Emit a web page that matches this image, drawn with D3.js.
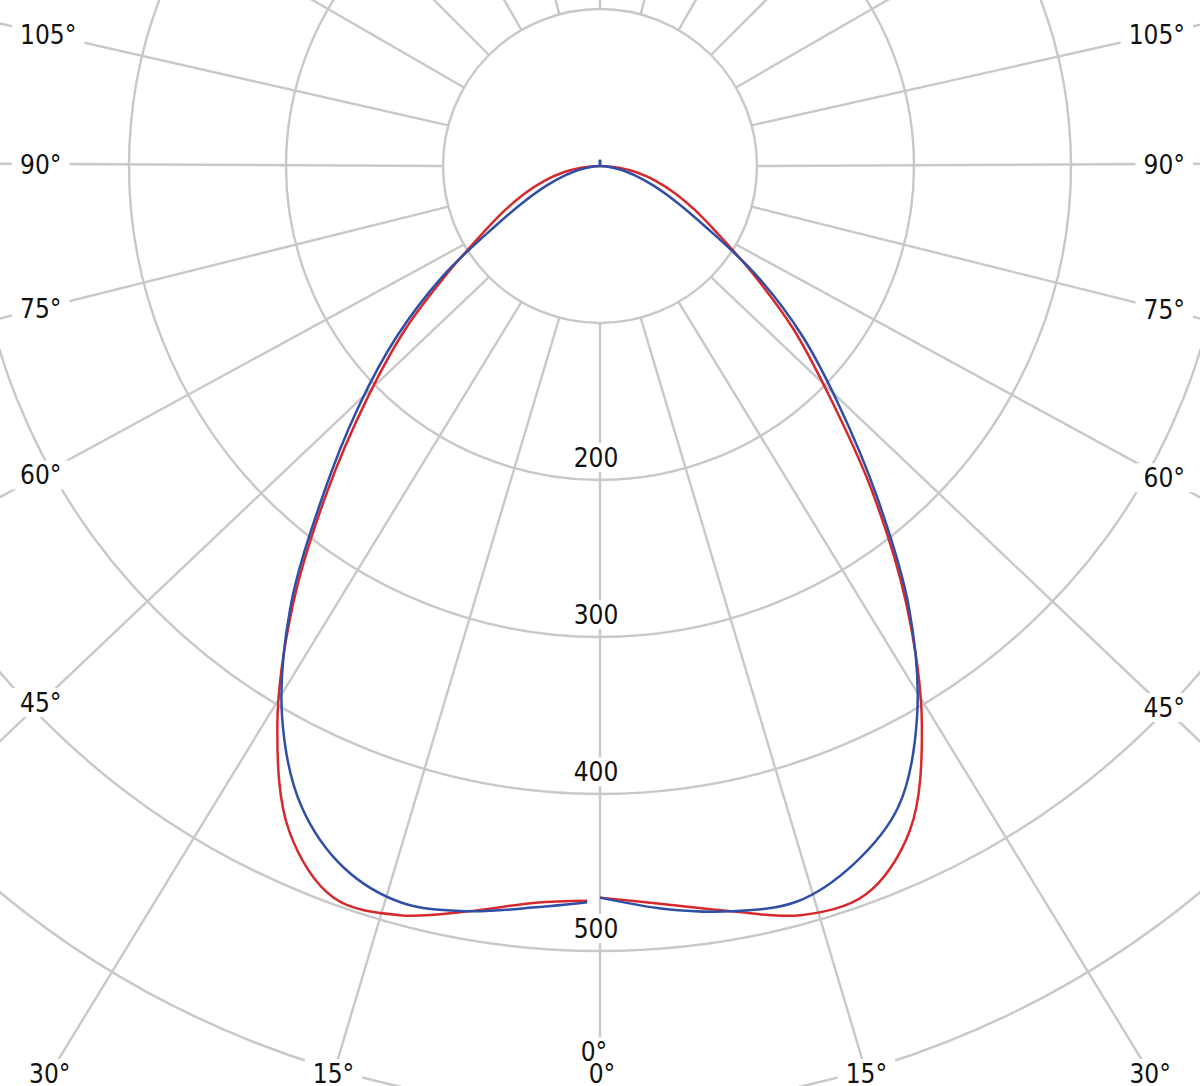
<!DOCTYPE html>
<html>
<head>
<meta charset="utf-8">
<script src="https://cdn.jsdelivr.net/npm/d3@7"></script>
<style>
  html, body { margin: 0; padding: 0; background: #fff; }
  svg { display: block; }
  text {
    font-family: 'DejaVu Sans Condensed', 'DejaVu Sans', sans-serif;
    font-stretch: condensed;
    font-size: 26px;
    fill: #111;
  }
</style>
</head>
<body>
<svg id="chart" width="1200" height="1086"></svg>
<script>
// Luminous intensity polar diagram (two planes, left / right halves)

// gamma angles (deg from nadir) for each half
var gammaRight = [0, 5, 10, 15, 20, 25, 30, 35, 40, 45, 50, 55, 60, 65, 70, 75, 80, 85, 90];
var gammaLeft  = [1, 5, 10, 15, 20, 25, 30, 35, 40, 45, 50, 55, 60, 65, 70, 75, 80, 85, 90];

// red series
var redRight = [466, 472, 482, 494, 494, 467, 410, 340, 269, 206, 160, 118, 87, 67, 51, 37, 24, 12, 0];
var redLeft  = [468, 471, 482, 494, 496, 468, 411, 341, 270, 210, 162, 118, 87, 67, 51, 37, 24, 12, 0];

// blue series
var blueRight = [466, 475, 482, 485, 473, 450, 404, 343, 274, 215, 168, 122, 78, 53, 36, 23, 13, 5, 0];
var blueLeft  = [469, 474, 482, 486, 476, 450, 405, 344, 275, 218, 169, 122, 78, 53, 36, 23, 13, 5, 0];

// blue has a tiny back lobe at the top
var gammaRear = [90, 170, 175, 180];
var blueRear  = [0, 0, 2, 4];

var rings = [100, 200, 300, 400, 500, 600, 700];
var ringLabels = [200, 300, 400, 500];
var spokes = [0, 15, 30, 45, 60, 75, 90, 105, 120, 135, 150, 165, 180];
var spokeLabels = [0, 15, 30, 45, 60, 75, 90, 105];

var width = 1200, height = 1086;
var cx = 600, cy = 166;
var frame = { left: 20, right: 1185, top: 44, bottom: 1083 };
var glyphHalf = 9.5, glyphH = 19;

var gridColor = '#c8c8c8';
var redColor = '#d7282b';
var blueColor = '#2f4ea6';

var r = d3.scaleLinear().domain([0, 100]).range([0, 157]);
var rad = function (d) { return d * Math.PI / 180; };

var svg = d3.select('#chart');
var gridLayer = svg.append('g');
var labelLayer = svg.append('g');
var curveLayer = svg.append('g').attr('transform', 'translate(' + cx + ',' + cy + ')');

// rings
gridLayer.selectAll('circle.ring')
  .data(rings)
  .enter().append('circle')
  .attr('class', 'ring')
  .attr('cx', cx)
  .attr('cy', cy)
  .attr('r', function (d) { return r(d); })
  .attr('fill', 'none')
  .attr('stroke', gridColor)
  .attr('stroke-width', 2.4);

// angle labels: pushed against the frame along their spoke
function placeAngleLabel(g, side) {
  var t = labelLayer.append('text').text(g + '\u00b0');
  var w = t.node().getComputedTextLength();
  var a = rad(g);
  var sx = Math.sin(a), sy = Math.cos(a);
  var x, base, anchor;

  if (g === 0) {
    // both 0° labels meet on the same spoke, the left one moves up a row
    anchor = 'middle';
    x = side < 0 ? cx - 6 : cx + 2;
    base = side < 0 ? frame.bottom - 22 : frame.bottom;
  } else {
    var edgeX = side < 0 ? frame.left + w : frame.right - w;
    var tt = Math.abs(edgeX - cx) / sx;
    var yc = cy + tt * sy;
    if (yc + glyphHalf <= frame.bottom) {
      x = edgeX;
      base = Math.max(frame.top, yc + glyphHalf - 2);
      anchor = side < 0 ? 'end' : 'start';
    } else {
      var tb = (frame.bottom - cy) / sy;
      x = cx + side * tb * sx;
      base = frame.bottom;
      anchor = side < 0 ? 'end' : 'start';
    }
  }
  t.attr('x', x).attr('y', base).attr('text-anchor', anchor);

  var x0 = anchor === 'end' ? x - w : (anchor === 'middle' ? x - w / 2 : x);
  return { text: t, x0: x0, w: w, base: base, cxl: x0 + w / 2, cyl: base - glyphHalf };
}

var placed = [];
spokeLabels.forEach(function (g) {
  [-1, 1].forEach(function (side) {
    var p = placeAngleLabel(g, side);
    p.g = g;
    p.side = side;
    placed.push(p);
  });
});

// value labels along the nadir spoke
ringLabels.forEach(function (v) {
  var t = labelLayer.append('text')
    .attr('x', cx - 4)
    .attr('y', cy + r(v) - 13)
    .attr('text-anchor', 'middle')
    .text(v);
  var w = t.node().getComputedTextLength();
  placed.push({ text: t, x0: cx - 4 - w / 2, w: w, base: cy + r(v) - 13 });
});

// white boxes behind every label
placed.forEach(function (p) {
  labelLayer.insert('rect', 'text')
    .attr('x', p.x0 - 8)
    .attr('y', p.base - glyphH - 5)
    .attr('width', p.w + 16)
    .attr('height', glyphH + 10)
    .attr('fill', '#fff');
});

// spokes: start on the first ring, run through their label
var inner = r(rings[0]);
spokes.forEach(function (g) {
  var a = rad(g);
  var sides = g === 0 || g === 180 ? [1] : [-1, 1];
  sides.forEach(function (side) {
    var x0 = cx + side * inner * Math.sin(a);
    var y0 = cy + inner * Math.cos(a);
    var lab = placed.filter(function (p) { return p.g === g && p.side === side; })[0];
    var x1, y1;
    if (lab && g !== 0) {
      x1 = x0 + (lab.cxl - x0) * 1.6;
      y1 = y0 + (lab.cyl - y0) * 1.6;
    } else {
      x1 = cx + side * 1500 * Math.sin(a);
      y1 = cy + 1500 * Math.cos(a);
    }
    gridLayer.append('line')
      .attr('x1', x0).attr('y1', y0)
      .attr('x2', x1).attr('y2', y1)
      .attr('stroke', gridColor)
      .attr('stroke-width', 2.4);
  });
});

// curves
function series(gammas, values) {
  return gammas.map(function (g, i) { return { g: g, v: values[i] }; });
}

function radialLine(side) {
  return d3.lineRadial()
    .angle(function (d) { return side > 0 ? Math.PI - rad(d.g) : Math.PI + rad(d.g); })
    .radius(function (d) { return r(d.v); })
    .curve(d3.curveCatmullRom.alpha(0.5));
}

var curves = [
  { side: 1, color: redColor, data: series(gammaRight, redRight) },
  { side: -1, color: redColor, data: series(gammaLeft, redLeft) },
  { side: 1, color: blueColor, data: series(gammaRight, blueRight).concat(series(gammaRear, blueRear).slice(1)) },
  { side: -1, color: blueColor, data: series(gammaLeft, blueLeft).concat(series(gammaRear, blueRear).slice(1)) }
];

curveLayer.selectAll('path.curve')
  .data(curves)
  .enter().append('path')
  .attr('class', 'curve')
  .attr('d', function (d) { return radialLine(d.side)(d.data); })
  .attr('fill', 'none')
  .attr('stroke', function (d) { return d.color; })
  .attr('stroke-width', 2.5)
  .attr('stroke-linejoin', 'round');
</script>
</body>
</html>
